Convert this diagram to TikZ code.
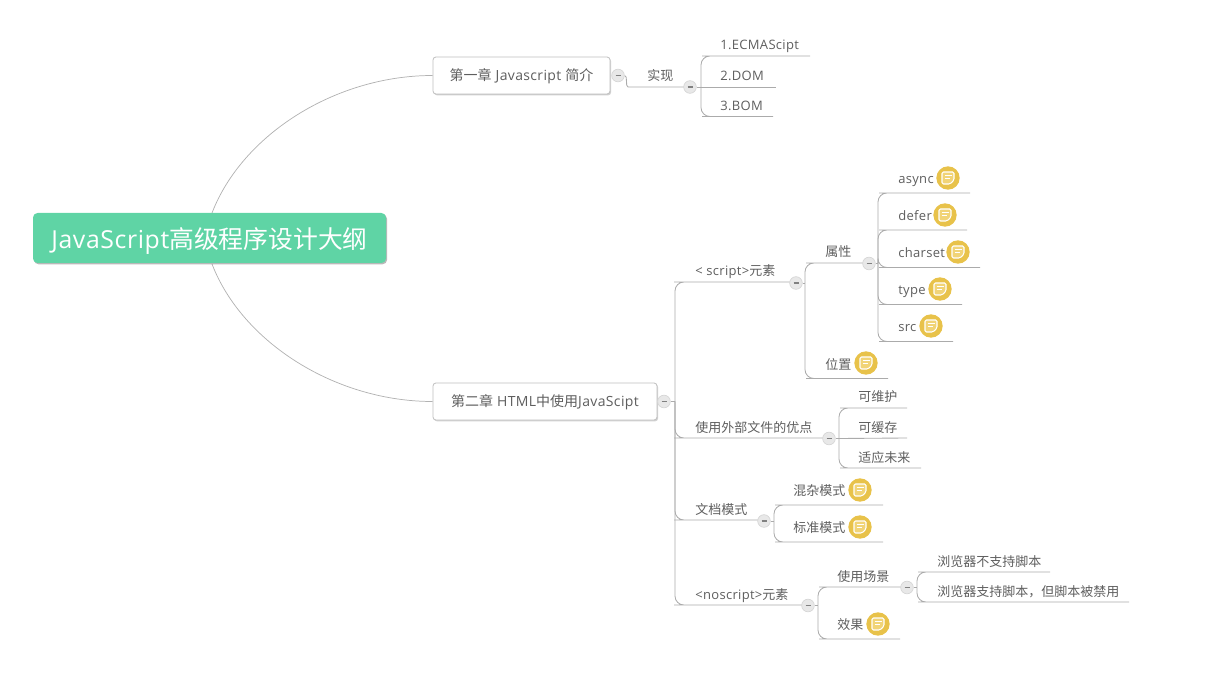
\documentclass[tikz,border=0pt]{standalone}
\usepackage{fontspec}
\setmainfont{Open Sans}[LetterSpace=2.5]
\newfontfamily\cjk{Noto Sans CJK SC}
\usetikzlibrary{shadows,calc,backgrounds}
\definecolor{txt}{HTML}{5E5E5E}
\definecolor{lnk}{HTML}{ABABAB}
\definecolor{rootc}{HTML}{5FD4A5}
\definecolor{notec}{HTML}{E8C24A}
\definecolor{notei}{HTML}{F1D477}
\tikzset{
  rootbox/.style={draw=none,fill=rootc,rounded corners=3.4pt,text=white,font=\fontsize{18.6pt}{20pt}\selectfont,
    drop shadow={shadow xshift=.8pt,shadow yshift=-1pt,opacity=.28,fill=black}},
  chapbox/.style={draw=black!25,fill=white,rounded corners=2.2pt,text=txt,line width=.6pt,font=\fontsize{10.5pt}{12pt}\selectfont,
    drop shadow={shadow xshift=.8pt,shadow yshift=-1pt,opacity=.18,fill=black}},
  topictext/.style={anchor=base west,inner sep=0pt,text=txt,font=\fontsize{9.75pt}{12pt}\selectfont},
  linkline/.style={draw=lnk,line width=.65pt,rounded corners=6.7pt},
  thinlink/.style={draw=black!30,line width=.55pt},
  btn/.style={circle,draw=black!16,fill=black!9,line width=.5pt,minimum size=9.5pt,inner sep=0pt},
  notebadge/.style={circle,fill=notec,minimum size=17.5pt,inner sep=0pt},
}
\newcommand{\topic}[6]{% name, line start, text x, line y, line end, text
  \node[topictext] (#1) at (#3,#4-6) {#6};
  \coordinate (#1-a) at (#2,#4);
  \coordinate (#1-b) at (#5,#4);
}
\newcommand{\notetopic}[6]{% same, for a topic that carries a note badge (taller row)
  \node[topictext] (#1) at (#3,#4-9.5) {#6};
  \coordinate (#1-a) at (#2,#4);
  \coordinate (#1-b) at (#5,#4);
}
\newcommand{\button}[3]{% name, x, y
  \node[btn] (#1) at (#2,#3) {};
  \draw[black!50,line width=.9pt] ($(#1)+(-2.5,0)$) -- ($(#1)+(2.5,0)$);
}
\newcommand{\badge}[3]{% name, x, y
  \node[notebadge] (#1) at (#2,#3) {};
  \begin{scope}[shift={(#1.center)}]
    \draw[white,line width=.8pt,fill=notei,rounded corners=1pt,line join=round]
      (-6,-6) -- (6,-6) -- (6,2) -- (2,6) -- (-6,6) -- cycle;
    \draw[white,line width=.8pt] (-3.5,-2.5) -- (3.5,-2.5) (-3.5,.8) -- (1.5,.8);
  \end{scope}
}
\newcommand{\branch}[2]{% junction, topic
  \draw[linkline] (#1) |- (#2-a) -- (#2-b);
}
\newcommand{\stem}[2]{% button, junction
  \draw[linkline] (#1.east) -- (#2);
}
\begin{document}
\begin{tikzpicture}[x=0.75pt,y=-0.75pt]
\useasboundingbox (0,0) rectangle (1224,673);
% central topic and chapters
\node[rootbox,minimum width=264.75pt,minimum height=37.5pt,inner sep=0pt] (root) at (209.5,238) {\raisebox{-8pt}[0pt][0pt]{JavaScript{\cjk 高级程序设计大纲}}};
\node[chapbox,minimum width=132.75pt,minimum height=27.75pt,inner sep=0pt] (ch1) at (521.5,75.5) {\raisebox{-4pt}[0pt][0pt]{{\cjk 第一章} Javascript {\cjk 简介}}};
\node[chapbox,minimum width=168pt,minimum height=27.75pt,inner sep=0pt] (ch2) at (545,401.5) {\raisebox{-4pt}[0pt][0pt]{{\cjk 第二章} HTML{\cjk 中使用}JavaScipt}};
\coordinate (rt) at (212,213);
\coordinate (rb) at (212,264);
% chapter 1
\topic{impl}{637}{647}{87}{690}{{\cjk 实现}}
\topic{ecma}{711}{720}{56}{810}{1.ECMAScipt}
\topic{dom}{711}{720}{87}{776}{2.DOM}
\topic{bom}{711}{720}{116.5}{773}{3.BOM}
\coordinate (j2) at (701,87);
% chapter 2 level 1
\topic{script}{683}{695}{282}{796}{< script>{\cjk 元素}}
\topic{ext}{683}{695}{438}{829}{{\cjk 使用外部文件的优点}}
\topic{mode}{683}{695}{520}{764}{{\cjk 文档模式}}
\topic{noscr}{683}{695}{605}{808}{<noscript>{\cjk 元素}}
\coordinate (j3) at (675,401.5);
% script children
\topic{attr}{815}{825}{263}{869}{{\cjk 属性}}
\notetopic{pos}{815}{825}{378.5}{888}{{\cjk 位置}}
\coordinate (j4) at (805,283);
\notetopic{async}{888}{898}{193}{970}{async}
\notetopic{defer}{888}{898}{230}{967}{defer}
\notetopic{charset}{888}{898}{267.5}{980}{charset}
\notetopic{type}{888}{898}{304.5}{962}{type}
\notetopic{src}{888}{898}{341.5}{953}{src}
\coordinate (j5) at (878,263.5);
% external file children
\topic{maint}{849}{858}{408}{907}{{\cjk 可维护}}
\topic{cache}{849}{858}{438}{907}{{\cjk 可缓存}}
\topic{future}{849}{858}{468}{921}{{\cjk 适应未来}}
\coordinate (j6) at (839,438.5);
% doc mode children
\notetopic{quirk}{784}{793}{505}{883}{{\cjk 混杂模式}}
\notetopic{std}{784}{793}{542}{883}{{\cjk 标准模式}}
\coordinate (j7) at (774,521);
% noscript children
\topic{usage}{828}{837}{587}{907}{{\cjk 使用场景}}
\notetopic{effect}{828}{837}{639}{900}{{\cjk 效果}}
\coordinate (j8) at (818,605.5);
\topic{nosup}{927}{937}{572}{1050}{{\cjk 浏览器不支持脚本}}
\topic{disab}{927}{937}{602}{1129}{{\cjk 浏览器支持脚本，但脚本被禁用}}
\coordinate (j9) at (917,587.5);
% collapse buttons
\button{b1}{618}{75.5}
\button{b2}{690}{87}
\button{b3}{664}{401.5}
\button{b4}{796}{283}
\button{b5}{869}{263.5}
\button{b6}{829}{438.5}
\button{b7}{764}{521}
\button{b8}{808}{605.5}
\button{b9}{907}{587.5}
% connectors, behind nodes
\begin{scope}[on background layer]
\draw[thinlink] (rt) .. controls (242,135) and (335,75.5) .. (ch1.west);
\draw[thinlink] (rb) .. controls (242,342) and (335,401.5) .. (ch2.west);
\draw[linkline] (b1.east) .. controls (628,75.5) and (625,87) .. (impl-a) -- (impl-b);
\stem{b2}{j2}
\branch{j2}{ecma}\draw[linkline] (j2) -- (dom-b);\branch{j2}{bom}
\stem{b3}{j3}
\branch{j3}{script}\branch{j3}{ext}\branch{j3}{mode}\branch{j3}{noscr}
\stem{b4}{j4}
\branch{j4}{attr}\branch{j4}{pos}
\stem{b5}{j5}
\branch{j5}{async}\branch{j5}{defer}\branch{j5}{charset}\branch{j5}{type}\branch{j5}{src}
\stem{b6}{j6}
\branch{j6}{maint}\draw[linkline] (j6) -- (cache-b);\branch{j6}{future}
\stem{b7}{j7}
\branch{j7}{quirk}\branch{j7}{std}
\stem{b8}{j8}
\branch{j8}{usage}\branch{j8}{effect}
\stem{b9}{j9}
\branch{j9}{nosup}\branch{j9}{disab}
\end{scope}
% note badges
\badge{nasync}{948}{178}
\badge{ndefer}{945}{215}
\badge{ncharset}{958}{252}
\badge{ntype}{940}{289}
\badge{nsrc}{931}{326}
\badge{npos}{866}{363}
\badge{nquirk}{860}{490}
\badge{nstd}{860}{527}
\badge{neffect}{878}{624}
\end{tikzpicture}
\end{document}
